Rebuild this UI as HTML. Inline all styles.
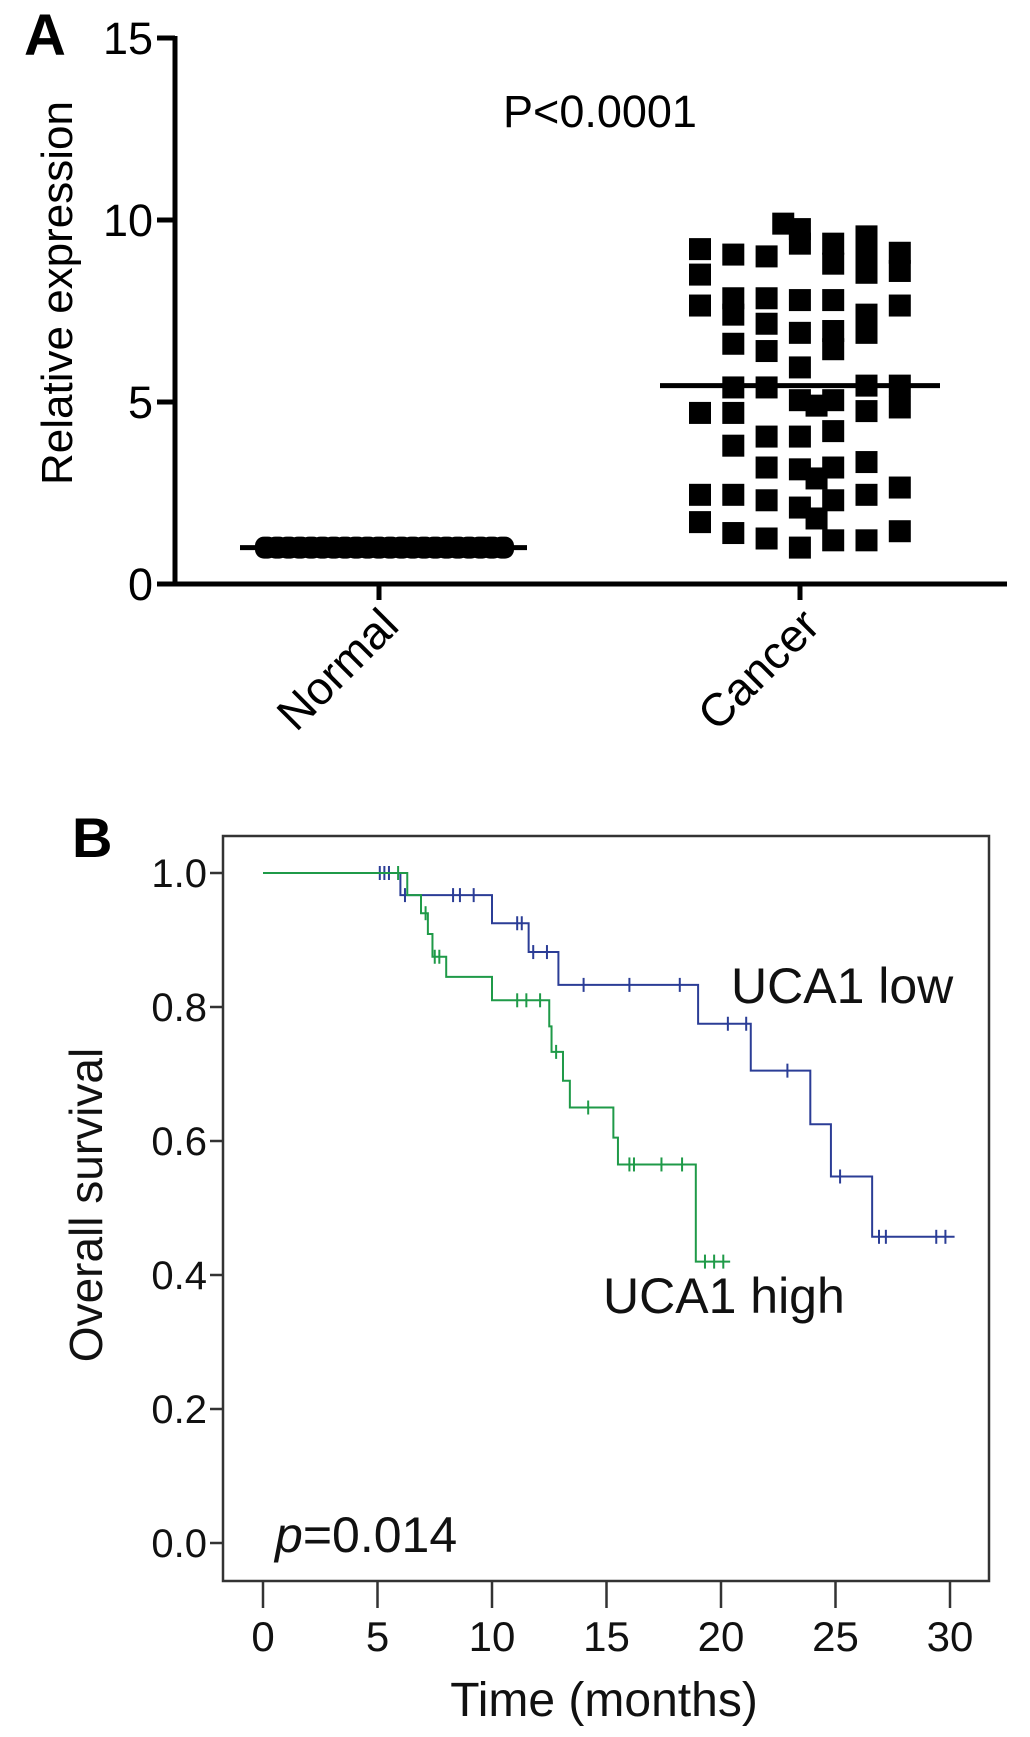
<!DOCTYPE html>
<html><head><meta charset="utf-8"><style>
html,body{margin:0;padding:0;background:#fff;}
svg{display:block;font-family:"Liberation Sans",Arial,sans-serif;}
</style></head><body>
<svg id="fig" width="1030" height="1737" viewBox="0 0 1030 1737">
<g id="panelA"></g>
<g id="panelB"></g>
</svg>
<script>
// ---------- Panel A data ----------
const aCategories = ["Normal", "Cancer"];
const aYTicks = [0, 5, 10, 15];
const normalValues = [1,1,1,1,1,1,1,1,1,1,1,1,1,1,1,1,1,1,1,1,1,1];
const normalMedian = 1;
const cancerCols = [0,0,0,0,0,0, 1,1,1,1,1,1,1,1,1, 2,2,2,2,2,2,2,2,2, 2.5,3.5,3.5, 3,3,3,3,3,3,3,3,3,3, 3.5, 4,4,4,4,4,4,4,4,4,4, 5,5,5,5,5,5,5,5,5,5, 6,6,6,6,6,6,6];
const cancerValues = [9.2,8.5,7.65,4.7,2.45,1.7, 9.05,7.85,7.4,6.6,5.4,4.7,3.8,2.45,1.4, 9.0,7.85,7.15,6.4,5.4,4.05,3.2,2.3,1.25, 9.9,4.9,2.9, 9.75,9.35,7.8,6.9,5.95,5.05,4.05,3.15,2.1,1.0, 1.8, 9.35,8.8,7.8,6.95,6.45,5.05,4.2,3.2,2.3,1.2, 9.55,9.0,8.55,7.4,6.9,5.45,4.75,3.35,2.45,1.2, 9.1,8.6,7.65,5.45,4.85,2.65,1.45];
const cancerMedian = 5.45;

// ---------- Panel B data ----------
const bXTicks = [0,5,10,15,20,25,30];
const bYTicks = [0.0,0.2,0.4,0.6,0.8,1.0];
const lowTimes = [0, 6.0, 10.0, 11.6, 12.9, 19.0, 21.3, 23.9, 24.8, 26.6, 30.2];
const lowSurv  = [1.0, 0.967, 0.925, 0.882, 0.833, 0.775, 0.705, 0.625, 0.547, 0.457, 0.457];
const lowCensorT = [5.1,5.3,5.5, 6.2, 8.3,8.6,9.2, 11.1,11.3, 11.8,12.4, 14.0,16.0,18.2, 20.3,21.1, 22.9, 25.2, 26.9,27.2, 29.4,29.8];
const lowCensorS = [1,1,1, 0.967, 0.967,0.967,0.967, 0.925,0.925, 0.882,0.882, 0.833,0.833,0.833, 0.775,0.775, 0.705, 0.547, 0.457,0.457, 0.457,0.457];
const highTimes = [0, 6.3, 6.9, 7.2, 7.4, 8.0, 10.0, 12.5, 12.6, 13.1, 13.4, 15.3, 15.5, 18.9, 20.4];
const highSurv  = [1.0, 0.967, 0.94, 0.909, 0.875, 0.845, 0.81, 0.771, 0.733, 0.69, 0.65, 0.605, 0.565, 0.42, 0.42];
const highCensorT = [5.9, 7.1, 7.5,7.7, 11.1,11.5,12.1, 12.8, 14.2, 16.0,16.2,17.4,18.3, 19.3,19.7,20.1];
const highCensorS = [1.0, 0.94, 0.875,0.875, 0.81,0.81,0.81, 0.733, 0.65, 0.565,0.565,0.565,0.565, 0.42,0.42,0.42];

const NS = "http://www.w3.org/2000/svg";
function mk(parent, tag, attrs, text) {
  const e = document.createElementNS(NS, tag);
  for (const k in attrs) e.setAttribute(k, attrs[k]);
  if (text !== undefined) e.textContent = text;
  parent.appendChild(e);
  return e;
}

// ---------- Panel A ----------
const A = document.getElementById('panelA');
const ay = v => 584 - v * 36.4;
const ax = i => [379, 800][i];
let t;
t = mk(A, 'text', {x: 24, y: 55, 'font-size': 58, 'font-weight': 'bold'}, 'A');


let axisA = mk(A, 'path', {d: `M175 ${ay(15)-2} V${ay(0)} H1007`, stroke: '#000', 'stroke-width': 5, fill: 'none'});


aYTicks.forEach(v => {
  const tk = mk(A, 'line', {x1: 157, x2: 175, y1: ay(v), y2: ay(v), stroke: '#000', 'stroke-width': 5});
  
  
  const lb = mk(A, 'text', {x: 153, y: ay(v) + 16, 'font-size': 45, 'text-anchor': 'end'}, String(v));
  
  
});
aCategories.forEach((c, i) => {
  const tk = mk(A, 'line', {x1: ax(i), x2: ax(i), y1: ay(0), y2: 600, stroke: '#000', 'stroke-width': 5});
  
  
  const lb = mk(A, 'text', {x: ax(i) + 22, y: 628, 'font-size': 46, 'text-anchor': 'end', transform: `rotate(-45 ${ax(i) + 22} 628)`}, c);
  
  
});
t = mk(A, 'text', {x: 0, y: 0, 'font-size': 44, 'text-anchor': 'middle', transform: 'translate(72 293) rotate(-90)'}, 'Relative expression');


t = mk(A, 'text', {x: 600, y: 127, 'font-size': 45, 'text-anchor': 'middle'}, 'P<0.0001');


const nN = normalValues.length;
normalValues.forEach((v, i) => {
  const x = 266 + i * (503 - 266) / (nN - 1);
  const p = mk(A, 'rect', {x: x - 11, y: ay(v) - 11, width: 22, height: 22, rx: 9, fill: '#000'});
  
  
});
let med = mk(A, 'line', {x1: 240, x2: 527, y1: ay(normalMedian), y2: ay(normalMedian), stroke: '#000', 'stroke-width': 5});


cancerValues.forEach((v, i) => {
  const x = 700 + cancerCols[i] * 33.3;
  const p = mk(A, 'rect', {x: x - 11, y: ay(v) - 11, width: 22, height: 22, fill: '#000'});
  
  
});
med = mk(A, 'line', {x1: 660, x2: 940, y1: ay(cancerMedian), y2: ay(cancerMedian), stroke: '#000', 'stroke-width': 5});



// ---------- Panel B ----------
const B = document.getElementById('panelB');
const bx = m => 263 + m * (950 - 263) / 30;
const by = s => 1543 - s * (1543 - 873);
t = mk(B, 'text', {x: 72, y: 857, 'font-size': 56, 'font-weight': 'bold'}, 'B');


let box = mk(B, 'rect', {x: 223, y: 836, width: 766, height: 745, fill: 'none', stroke: '#333', 'stroke-width': 2.5});


bYTicks.forEach(v => {
  const tk = mk(B, 'line', {x1: 210, x2: 223, y1: by(v), y2: by(v), stroke: '#333', 'stroke-width': 2.5});
  
  
  const lb = mk(B, 'text', {x: 207, y: by(v) + 14, 'font-size': 40, 'text-anchor': 'end', fill: '#111'}, v.toFixed(1));
  
  
});
bXTicks.forEach(v => {
  const tk = mk(B, 'line', {x1: bx(v), x2: bx(v), y1: 1581, y2: 1608, stroke: '#333', 'stroke-width': 2.5});
  
  
  const lb = mk(B, 'text', {x: bx(v), y: 1651, 'font-size': 42, 'text-anchor': 'middle', fill: '#111'}, String(v));
  
  
});
t = mk(B, 'text', {x: 604, y: 1716, 'font-size': 48, 'text-anchor': 'middle', fill: '#111'}, 'Time (months)');


t = mk(B, 'text', {x: 0, y: 0, 'font-size': 46, 'text-anchor': 'middle', fill: '#111', transform: 'translate(102 1205) rotate(-90)'}, 'Overall survival');



function stepPath(ts, ss) {
  let d = `M${bx(ts[0])} ${by(ss[0])}`;
  for (let i = 1; i < ts.length; i++) d += ` H${bx(ts[i])} V${by(ss[i])}`;
  return d;
}
const curves = [
  {ts: lowTimes, ss: lowSurv, ct: lowCensorT, cs: lowCensorS, col: '#2b3d96', name: 'uca1-low'},
  {ts: highTimes, ss: highSurv, ct: highCensorT, cs: highCensorS, col: '#1f9a48', name: 'uca1-high'}
];
curves.forEach(c => {
  const p = mk(B, 'path', {d: stepPath(c.ts, c.ss), fill: 'none', stroke: c.col, 'stroke-width': 2});
  
  
  c.ct.forEach((tm, i) => {
    const x = bx(tm), y = by(c.cs[i]);
    const m = mk(B, 'path', {d: `M${x} ${y-7} V${y+7}`, stroke: c.col, 'stroke-width': 2});
    
    
  });
});
t = mk(B, 'text', {x: 731, y: 1003, 'font-size': 50, fill: '#111'}, 'UCA1 low');


t = mk(B, 'text', {x: 603, y: 1313, 'font-size': 50, fill: '#111'}, 'UCA1 high');


t = mk(B, 'text', {x: 275, y: 1552, 'font-size': 50, fill: '#111'});


mk(t, 'tspan', {'font-style': 'italic'}, 'p');
mk(t, 'tspan', {}, '=0.014');
</script>
</body></html>
